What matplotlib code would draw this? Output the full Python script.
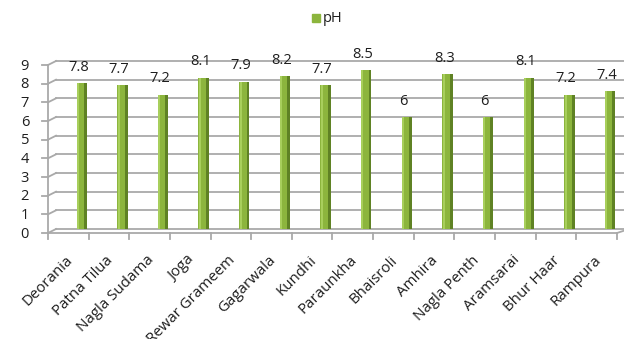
import matplotlib.pyplot as plt
import matplotlib.transforms as mtransforms
import numpy as np


sites = ['Deorania', 'Patna Tilua', 'Nagla Sudama', 'Joga', 'Rewar Grameem',
         'Gagarwala', 'Kundhi', 'Paraunkha', 'Bhaisroli', 'Amhira',
         'Nagla Penth', 'Aramsarai', 'Bhur Haar', 'Rampura']
ph = [7.8, 7.7, 7.2, 8.1, 7.9, 8.2, 7.7, 8.5, 6, 8.3, 6, 8.1, 7.2, 7.4]
y_ticks = list(range(0, 10))

GRID = '#a9a9a9'
FACE = '#8cb53d'
LIGHT = '#a8cf5c'
SIDE = '#5f8224'
TXT = '#1e1e1e'


def pix_line(ax, xs, ys):
    ax.add_line(plt.Line2D(xs, ys, transform=mtransforms.IdentityTransform(),
                           color=GRID, lw=1.3, clip_on=False))


def main():
    fig = plt.figure(figsize=(6.24, 3.39), dpi=100)
    ax = fig.add_axes([56 / 624, 110 / 339, 569 / 624, 168 / 339])
    ax.set_xlim(-0.5, 13.5)
    ax.set_ylim(0, 9)
    ax.axis('off')

    # front plane sits a few pixels left/down of the back wall
    front = ax.transData + mtransforms.ScaledTranslation(
        -0.08, -0.04, fig.dpi_scale_trans)

    # back wall gridlines
    for v in y_ticks:
        ax.plot([-0.5, 13.6], [v, v], color=GRID, lw=1.3, zorder=1,
                clip_on=False)
        # diagonal from front axis to back wall, and a short tick
        p0 = front.transform((-0.5, v))
        p1 = ax.transData.transform((-0.5, v))
        pix_line(ax, [p0[0], p1[0]], [p0[1], p1[1]])
        pix_line(ax, [p0[0] - 6, p0[0]], [p0[1], p0[1]])
        ax.text(p0[0] - 19, p0[1] - 1, str(v), transform=None,
                ha='right', va='center', fontsize=10.5, color=TXT,
                family='Open Sans')

    # front axis and floor edge
    ax.plot([-0.5, -0.5], [0, 9], color=GRID, lw=1.3, transform=front,
            clip_on=False)
    ax.plot([-0.5, 13.5], [0, 0], color=GRID, lw=1.3, transform=front,
            clip_on=False)
    p0 = front.transform((13.5, 0))
    p1 = ax.transData.transform((13.6, 0))
    pix_line(ax, [p0[0], p1[0]], [p0[1], p1[1]])
    for i in range(len(sites) + 1):
        p = front.transform((i - 0.5, 0))
        pix_line(ax, [p[0], p[0]], [p[1], p[1] - 6])

    # columns: lit face plus darker right side
    x = np.arange(len(sites)) + 0.1
    ax.bar(x, ph, width=0.19, color=FACE, zorder=3)
    ax.bar(x - 0.06, ph, width=0.05, color=LIGHT, zorder=3)
    ax.bar(x + 0.125, ph, width=0.07, color=SIDE, zorder=3)

    for xi, v in zip(x, ph):
        ax.annotate(f'{v:g}', (xi - 0.05, v), xytext=(0, 6),
                    textcoords='offset points', ha='center', va='bottom',
                    fontsize=10.5, color=TXT, family='Open Sans',
                    annotation_clip=False)

    # category labels rotated under the floor edge
    for i, name in enumerate(sites):
        p = front.transform((i, 0))
        ax.text(p[0] + 2, p[1] - 25, name, transform=None, rotation=45,
                rotation_mode='anchor', ha='right', va='center',
                fontsize=10.8, color=TXT, family='Open Sans')

    # legend
    fig.patches.append(plt.Rectangle((312 / 624, 1 - 22 / 339), 8 / 624,
                                     8 / 339, transform=fig.transFigure,
                                     color=FACE))
    fig.text(323 / 624, 1 - 18 / 339, 'pH', ha='left', va='center',
             fontsize=10.5, color=TXT, family='Open Sans')

    fig.savefig('out.png', dpi=100)


if __name__ == "__main__":
    main()
